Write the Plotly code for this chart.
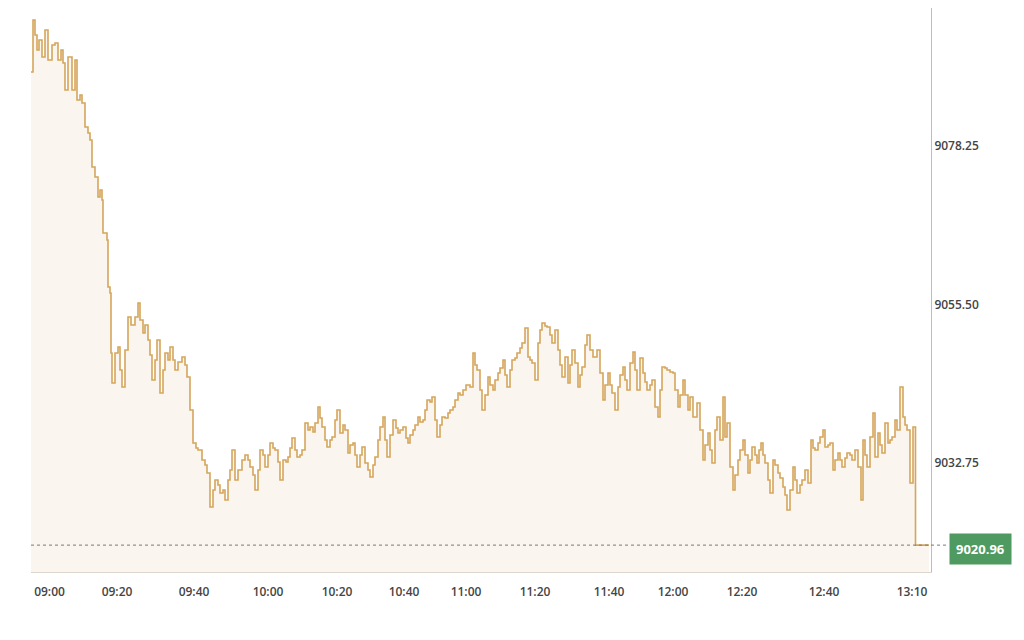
import plotly.graph_objects as go

# sample number along the session (horizontal data coordinate) and price
tick_no = [
    0, 2, 4, 6, 8, 11, 14, 17, 21, 24, 27, 30, 32, 34, 37, 41, 44, 46, 49, 51,
    54, 57, 59, 61, 64, 67, 69, 71, 72, 76, 77, 79, 80, 81, 84, 87, 89, 91, 94, 97,
    100, 104, 107, 109, 112, 114, 117, 119, 121, 124, 126, 129, 132, 134, 137, 139, 142, 144, 147, 151,
    154, 156, 159, 162, 165, 167, 171, 174, 176, 179, 182, 184, 187, 189, 192, 194, 197, 199, 201, 204,
    207, 211, 214, 217, 219, 222, 224,
    227, 229, 232, 234, 237, 239, 242, 244, 247, 249, 252, 255, 257, 259, 261, 264, 266, 269, 271, 274,
    277, 279, 282, 284, 287, 289, 291, 294, 296, 299, 301, 304, 306, 309, 312, 314, 317, 319, 322, 324,
    326, 329, 331, 334, 337, 339, 342, 344, 347, 349, 352, 354, 356, 359, 362, 365, 367, 369, 372, 375,
    377, 379, 382, 384, 387, 389, 392, 394, 396, 399, 401, 404, 406, 409, 411, 414, 417, 419, 422, 424,
    427, 429, 432, 435, 439,
    442, 444, 446, 449, 451, 454, 457, 459, 462, 464, 467, 469, 472, 474, 476, 479, 481, 484, 486, 489,
    491, 494, 497, 499, 501, 504, 507, 509, 511, 514, 516, 519, 521, 524, 527, 529, 531, 534, 537, 539,
    541, 544, 547, 549, 551, 554, 556, 559, 562, 566, 569, 572, 574, 577, 579, 581, 584, 587, 589, 592,
    594, 596, 599, 602, 604, 606, 609, 612, 614, 616, 619, 621, 624, 627, 629, 631, 634, 636, 639, 642,
    644, 647, 649, 652, 654, 657,
    659, 662, 666, 669, 672, 674, 677, 679, 681, 684, 686, 689, 692, 694, 696, 699, 702, 704, 707, 709,
    712, 714, 717, 719, 721, 724, 726, 728, 730, 732, 734, 737, 739, 742, 744, 747, 749, 752, 754, 756,
    759, 762, 764, 766, 769, 771, 774, 777, 780, 782, 784, 787, 789, 792, 794, 797, 799, 802, 804, 807,
    809, 811, 814, 816, 819, 821, 824, 827, 830, 832, 834, 836, 839, 842, 844, 847, 849, 851, 854, 857,
    859, 861, 864, 866, 869, 872, 874, 876, 879, 882, 884, 884.5, 898,
]

price = [
    9088.87, 9096.33, 9094.18, 9092.03, 9093.46, 9091.02, 9094.90, 9090.59, 9092.75, 9093.03,
    9090.59, 9092.03, 9090.16, 9086.29, 9091.02, 9086.29, 9090.59, 9084.85, 9085.57, 9084.42,
    9080.98, 9080.11, 9079.11, 9075.23, 9073.80, 9070.93, 9071.93, 9070.50, 9065.76, 9064.76,
    9058.01, 9057.15, 9048.54, 9044.23, 9048.54, 9049.40, 9046.10, 9043.66, 9048.97, 9053.71,
    9052.56, 9053.71, 9055.71, 9053.27, 9051.41, 9052.56, 9050.40, 9048.25, 9044.66, 9047.53,
    9050.40, 9042.80, 9046.10, 9048.54, 9047.53, 9049.40, 9047.53, 9046.10, 9047.25, 9047.96,
    9046.82, 9045.09, 9040.36, 9035.62, 9034.90, 9034.62, 9033.18, 9032.46, 9031.31, 9026.43,
    9028.87, 9030.31, 9029.59, 9028.44, 9028.87, 9027.44, 9030.31, 9031.75, 9034.62, 9030.31,
    9031.75, 9033.18, 9033.90, 9033.18, 9032.18, 9031.03, 9028.87,
    9031.75, 9034.62, 9033.90, 9032.18, 9033.90, 9035.62, 9034.90, 9034.62, 9032.89, 9030.31,
    9033.18, 9032.89, 9033.61, 9034.90, 9036.34, 9034.62, 9033.61, 9033.90, 9034.62, 9038.49,
    9037.49, 9037.92, 9037.20, 9038.49, 9040.79, 9039.21, 9037.92, 9036.05, 9035.05, 9036.05,
    9036.48, 9038.92, 9040.36, 9037.06, 9038.20, 9037.49, 9034.19, 9035.33, 9035.62, 9033.90,
    9032.18, 9033.90, 9035.05, 9032.75, 9031.75, 9030.74, 9032.46, 9033.61, 9036.05, 9037.92,
    9039.35, 9036.05, 9033.61, 9036.77, 9038.92, 9037.77, 9037.06, 9037.49, 9037.92, 9036.34,
    9035.62, 9036.77, 9037.49, 9038.20, 9039.35, 9038.63, 9038.92, 9040.36, 9041.79, 9041.51,
    9042.22, 9038.92, 9036.48, 9038.20, 9039.35, 9039.21, 9039.93, 9040.36, 9040.79, 9041.79,
    9042.80, 9042.51, 9043.23, 9043.95, 9043.66,
    9048.54, 9046.82, 9046.10, 9043.23, 9040.36, 9042.51, 9045.09, 9043.95, 9043.23, 9044.66,
    9045.67, 9046.39, 9047.53, 9045.38, 9043.66, 9046.10, 9047.53, 9047.82, 9048.54, 9049.26,
    9049.97, 9052.13, 9047.96, 9047.53, 9047.10, 9044.66, 9049.97, 9051.84, 9052.84, 9052.41,
    9052.27, 9051.12, 9049.97, 9051.84, 9048.97, 9046.82, 9045.09, 9047.96, 9044.23, 9046.82,
    9048.97, 9047.10, 9043.66, 9045.38, 9046.53, 9049.69, 9051.12, 9048.97, 9047.96, 9048.97,
    9045.67, 9041.79, 9043.95, 9045.67, 9043.95, 9042.80, 9040.36, 9043.66, 9045.38, 9046.53,
    9044.66, 9043.23, 9047.10, 9048.68, 9046.10, 9043.23, 9047.82, 9045.67, 9044.38, 9043.23,
    9043.95, 9044.66, 9040.79, 9039.35, 9043.23, 9046.53, 9046.39, 9046.10, 9045.81, 9045.67,
    9043.23, 9040.79, 9042.51, 9044.66, 9042.51, 9040.36,
    9042.22, 9039.35, 9041.36, 9037.49, 9033.18, 9035.33, 9037.06, 9034.62, 9032.75, 9037.49,
    9039.35, 9036.05, 9042.22, 9036.48, 9038.49, 9032.18, 9028.87, 9031.03, 9033.18, 9034.62,
    9036.05, 9033.90, 9031.31, 9033.18, 9035.05, 9033.90, 9032.75, 9034.62, 9035.62, 9033.90,
    9032.75, 9030.31, 9028.44, 9033.18, 9032.46, 9031.31, 9030.60, 9029.31, 9028.16, 9026.00,
    9028.87, 9032.18, 9030.31, 9028.44, 9029.59, 9030.31, 9031.75, 9029.88, 9036.05, 9034.90,
    9034.62, 9035.62, 9036.48, 9037.49, 9035.05, 9035.33, 9035.62, 9031.75, 9033.18, 9034.19,
    9033.18, 9032.18, 9033.47, 9034.19, 9033.90, 9033.18, 9034.62, 9032.18, 9027.44, 9036.05,
    9033.90, 9032.18, 9036.48, 9039.93, 9033.61, 9037.06, 9035.33, 9034.19, 9038.49, 9035.62,
    9036.05, 9036.48, 9038.92, 9037.49, 9043.66, 9039.35, 9038.20, 9037.49, 9029.88, 9037.92,
    9037.92, 9020.96, 9020.96,
]

last_price = 9020.96

time_tick_pos = [18.5, 86, 163, 237, 306, 373, 435, 504, 578, 642, 711, 793, 881]
time_tick_text = ["09:00", "09:20", "09:40", "10:00", "10:20", "10:40", "11:00",
                  "11:20", "11:40", "12:00", "12:20", "12:40", "13:10"]
price_ticks = [9032.75, 9055.50, 9078.25]
price_tick_text = ["9032.75", "9055.50", "9078.25"]

fig = go.Figure()
fig.add_trace(go.Scatter(
    x=tick_no, y=price, mode="lines",
    line=dict(color="#D5A55A", width=1.6, shape="hv"),
    fill="tozeroy", fillcolor="#FAF5EE",
    hoverinfo="skip",
))

fig.add_shape(type="line", xref="paper", yref="y", x0=0, x1=1.02,
              y0=last_price, y1=last_price,
              line=dict(color="#7A7A7A", width=1, dash="dot"))

fig.add_annotation(
    xref="paper", yref="y", x=1.055, y=last_price,
    xanchor="center", yanchor="middle",
    text="<b>%.2f</b>" % last_price, showarrow=False,
    font=dict(family="Open Sans", size=13, color="white"),
    bgcolor="#4E9A60", borderpad=6, yshift=-4,
)

fig.update_layout(
    width=1016, height=632,
    margin=dict(l=23, r=93, t=0, b=68),
    paper_bgcolor="white", plot_bgcolor="white",
    showlegend=False,
    font=dict(family="Open Sans", size=12, color="#444444"),
    xaxis=dict(
        range=[0, 900], showgrid=False, zeroline=False,
        tickmode="array", tickvals=time_tick_pos, ticktext=time_tick_text,
        showline=True, linecolor="#DCD6CC", linewidth=1,
        ticks="outside", ticklen=9, tickcolor="rgba(0,0,0,0)",
        tickfont=dict(size=12, color="#444444", weight=600),
        fixedrange=True,
    ),
    yaxis=dict(
        range=[9017.10, 9098.06], side="right", showgrid=False, zeroline=False,
        tickmode="array", tickvals=price_ticks, ticktext=price_tick_text,
        showline=True, linecolor="#BDBDBD", linewidth=1, mirror=False,
        ticks="", tickfont=dict(size=12, color="#444444", weight=600),
        fixedrange=True,
    ),
)

fig.write_html("out.html")
